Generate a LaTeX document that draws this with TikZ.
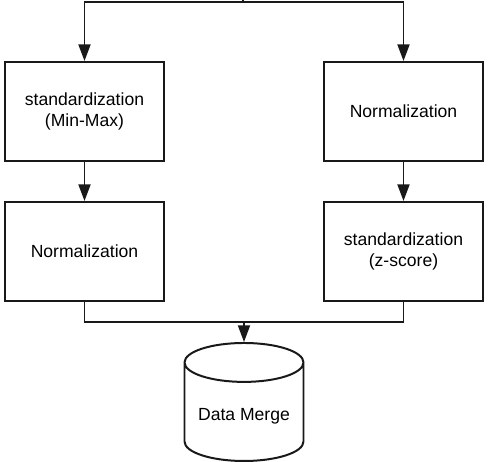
\documentclass[tikz,border=0pt]{standalone}
\usepackage{fontspec}
\setmainfont{Liberation Sans}
\usetikzlibrary{arrows.meta,positioning,shapes.geometric,calc}

\begin{document}
\begin{tikzpicture}
[node distance=1.17cm and 4.74cm,
inner sep=2mm,
font=\fontsize{15}{18}\selectfont,
stage/.style={rectangle,draw=black!90,line width=1.7pt,align=center,
  minimum width=4.77cm,minimum height=2.97cm},
store/.style={cylinder,shape border rotate=90,aspect=0.37,draw=black!90,
  line width=1.7pt,minimum width=3.57cm,minimum height=3.54cm},
link/.style={draw=black!90,line width=1.7pt},
post/.style={link,-{Triangle[length=0.5cm,width=0.36cm]}}]
\useasboundingbox (0,0) rectangle (14.73,-13.83);
\coordinate (in) at (7.29,0);
\coordinate (split) at (7.29,-0.07);
\node[stage] (minmax) at (2.535,-3.345) {standardization\\(Min-Max)};
\node[stage] (norm right) [right=of minmax] {Normalization};
\node[stage] (norm left) [below=of minmax] {Normalization};
\node[stage] (zscore) [below=of norm right] {standardization\\(z-score)};
\node[store] (merge) [below=1.2cm] at ($(norm left.south)!.5!(zscore.south)$) {Data Merge};
\coordinate (join) at ($(merge.north)+(0,0.6)$);
\coordinate (out) at (merge.south |- 0,-13.83);
\draw[link] (in) -- (split);
\draw[post] (split) -| (minmax);
\draw[post] (split) -| (norm right);
\draw[post] (minmax) -- (norm left);
\draw[post] (norm right) -- (zscore);
\draw[link] (norm left) |- (join);
\draw[link] (zscore) |- (join);
\draw[post] (join) -- (merge);
\draw[link] (merge) -- (out);
\end{tikzpicture}
\end{document}
